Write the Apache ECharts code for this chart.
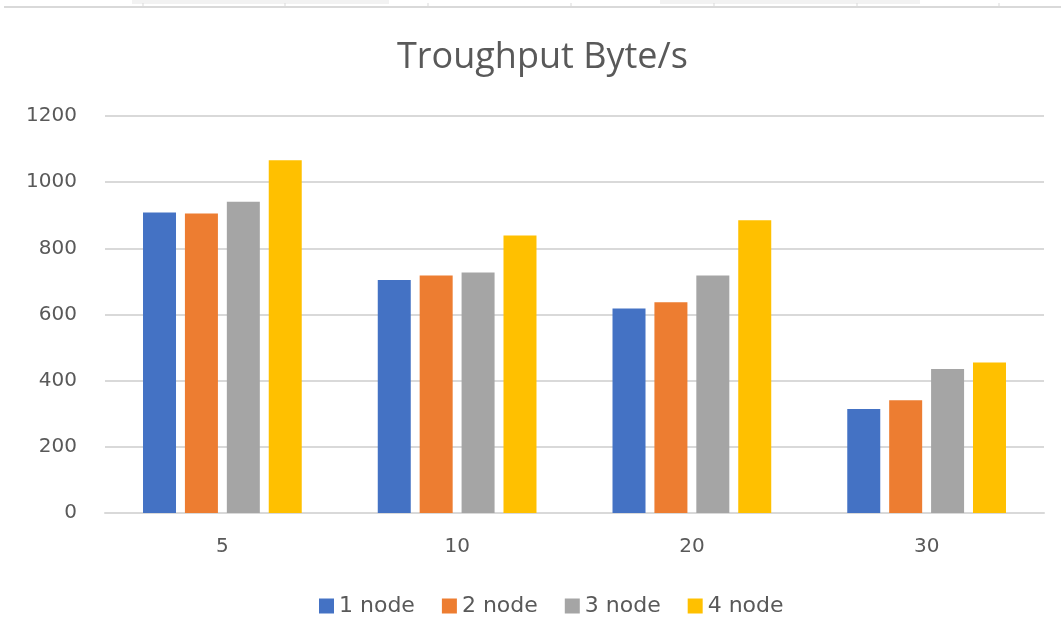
<!DOCTYPE html>
<html lang="en">
<head>
    <meta charset="UTF-8">
    <title>Troughput Byte/s</title>
    <script type="text/javascript" src="https://cdn.jsdelivr.net/npm/echarts@6/dist/echarts.min.js"></script>
    <style>
        html, body { margin: 0; padding: 0; background: #fff; }
        #main { width: 1061px; height: 617px; }
    </style>
</head>
<body>
<div id="main"></div>
<script type="text/javascript">

    // data
    var categories = ['5', '10', '20', '30'];
    var node1 = [908, 704, 618, 314];
    var node2 = [905, 718, 637, 341];
    var node3 = [941, 727, 718, 435];
    var node4 = [1066, 839, 885, 455];
    var seriesNames = ['1 node', '2 node', '3 node', '4 node'];
    var colors = ['#4472C4', '#ED7D31', '#A5A5A5', '#FFC000'];

    var textColor = '#595959';
    var fontFam = '"DejaVu Sans", sans-serif';

    var myChart = echarts.init(document.getElementById('main'));

    var values = [node1, node2, node3, node4];
    var series = [];
    for (let i = 0; i < values.length; i++) {
        series.push({
            name: seriesNames[i],
            type: 'bar',
            data: values[i],
            barWidth: 33,
            barGap: '27%',
            itemStyle: { color: colors[i] }
        });
    }

    // faint spreadsheet frame at the very top of the screenshot
    var topTicks = [143, 285, 428, 571, 714, 857, 999];
    var graphics = [
        { type: 'rect', shape: { x: 132, y: 0, width: 257, height: 4 }, style: { fill: '#f2f2f2' }, silent: true },
        { type: 'rect', shape: { x: 660, y: 0, width: 260, height: 4 }, style: { fill: '#f2f2f2' }, silent: true },
        { type: 'line', shape: { x1: 4, y1: 7, x2: 1061, y2: 7 }, style: { stroke: '#d9d9d9', lineWidth: 2 }, silent: true }
    ];
    for (let t = 0; t < topTicks.length; t++) {
        graphics.push({ type: 'line', shape: { x1: topTicks[t], y1: 3, x2: topTicks[t], y2: 7 },
            style: { stroke: '#d9d9d9', lineWidth: 1 }, silent: true });
    }

    var option = {
        animation: false,
        title: {
            text: 'Troughput Byte/s',
            left: 392,
            top: 35,
            textStyle: { color: textColor, fontSize: 36, fontWeight: 'normal', fontFamily: '"Open Sans", sans-serif' }
        },
        legend: {
            data: seriesNames,
            top: 590,
            left: 314,
            itemWidth: 15,
            itemHeight: 15,
            itemGap: 27,
            icon: 'rect',
            textStyle: { color: textColor, fontSize: 22, fontFamily: fontFam }
        },
        grid: {
            left: 105,
            right: 17,
            top: 116,
            bottom: 104
        },
        xAxis: {
            type: 'category',
            data: categories,
            axisLine: { lineStyle: { color: '#d9d9d9', width: 2 } },
            axisTick: { show: false },
            axisLabel: { color: textColor, fontSize: 20, fontFamily: fontFam, margin: 24 }
        },
        yAxis: {
            type: 'value',
            min: 0,
            max: 1200,
            interval: 200,
            axisLine: { show: false },
            axisTick: { show: false },
            axisLabel: { color: textColor, fontSize: 20, fontFamily: fontFam, margin: 28,
                formatter: function (v) { return String(v); } },
            splitLine: { lineStyle: { color: '#d9d9d9', width: 2 } }
        },
        graphic: graphics,
        series: series
    };

    myChart.setOption(option);
</script>
</body>
</html>
